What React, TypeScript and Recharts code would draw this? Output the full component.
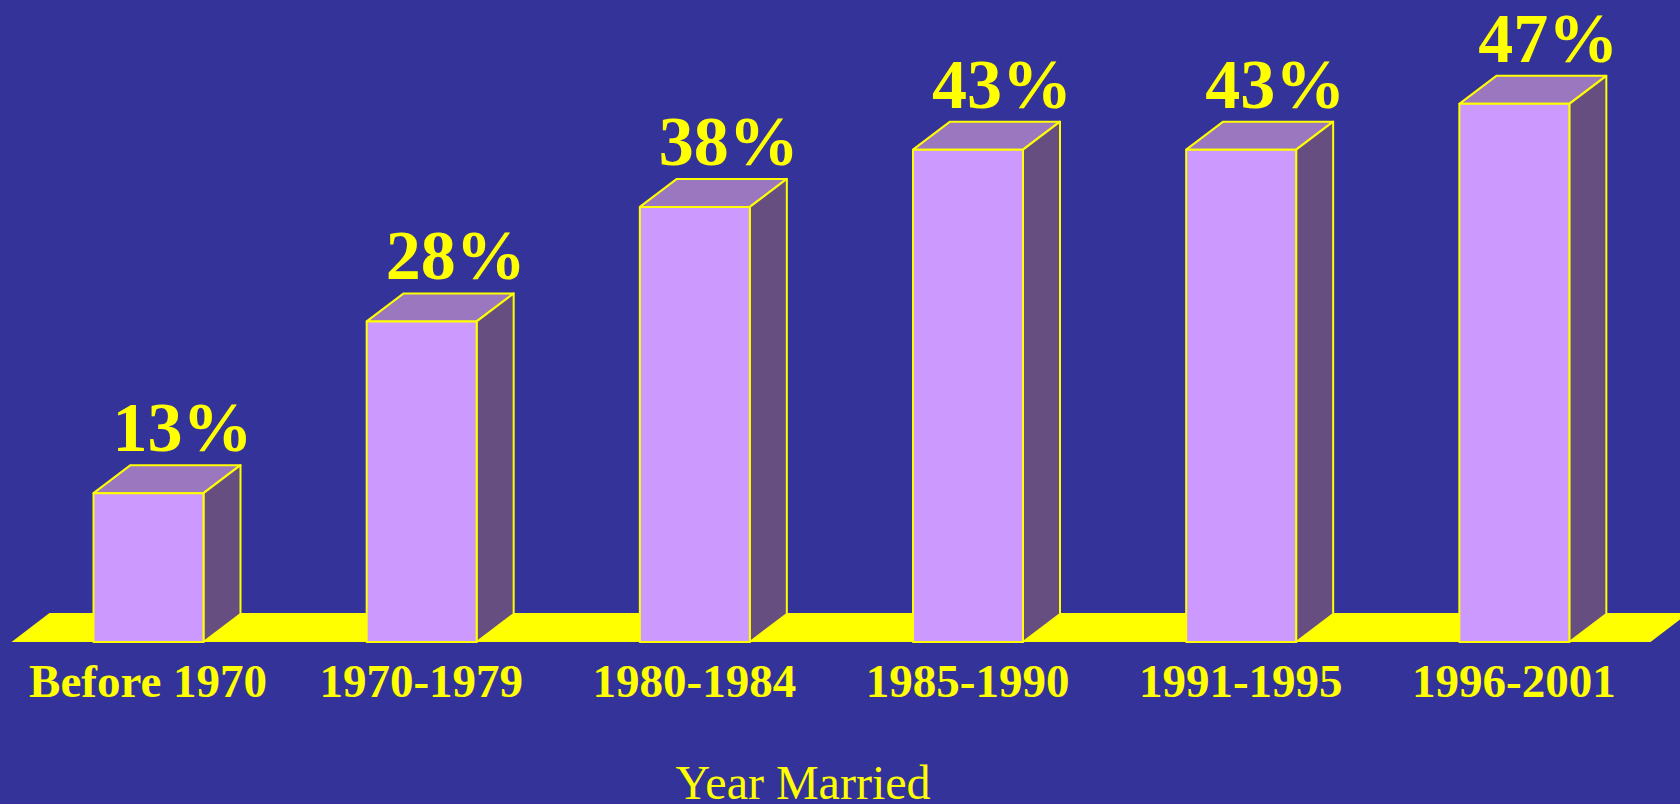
import { BarChart, Bar, XAxis, YAxis, LabelList, CartesianGrid } from "recharts";

const periods = ["Before 1970", "1970-1979", "1980-1984", "1985-1990", "1991-1995", "1996-2001"];
const shares = [13, 28, 38, 43, 43, 47];

const data = periods.map((p, i) => ({ period: p, share: shares[i] }));

const BG = "#333399";
const YELLOW = "#FFFF00";
const DX = 37;
const DY = 28;

const Box = (props: any) => {
  const { x, y, width, height } = props;
  const r = x + width;
  const b = y + height;
  return (
    <g stroke={YELLOW} strokeWidth={2} strokeLinejoin="round">
      <polygon points={`${x},${y} ${x + DX},${y - DY} ${r + DX},${y - DY} ${r},${y}`} fill="#9A77BF" />
      <polygon points={`${r},${y} ${r + DX},${y - DY} ${r + DX},${b - DY} ${r},${b}`} fill="#664F80" />
      <rect x={x} y={y} width={width} height={height} fill="#CC99FF" />
    </g>
  );
};

// yellow "floor" slab drawn from the grid line at the bottom of the plot, under the bars
const Floor = (props: any) => {
  const { x1, y1, x2, y2, y, height } = props;
  if (typeof y === "number" && typeof height === "number" && y1 < y + height - 1) return <g />;
  return (
    <polygon
      points={`${x1},${y1} ${x2},${y2} ${x2 + 38},${y2 - 29} ${x1 + 38},${y1 - 29}`}
      fill={YELLOW}
    />
  );
};

const ValueLabel = (props: any) => {
  const { x, y, width, value } = props;
  return (
    <text
      x={x + width / 2 + 34}
      y={y - 42}
      textAnchor="middle"
      fill={YELLOW}
      fontFamily="'Liberation Serif', serif"
      fontWeight="bold"
      fontSize={70}
    >
      {value}%
    </text>
  );
};

const PeriodTick = (props: any) => {
  const { x, y, payload } = props;
  return (
    <text
      x={x}
      y={y + 55}
      textAnchor="middle"
      fill={YELLOW}
      fontFamily="'Liberation Serif', serif"
      fontWeight="bold"
      fontSize={47}
    >
      {payload.value}
    </text>
  );
};

export default function App() {
  return (
    <div style={{ position: "absolute", left: 0, top: 0, width: 1680, height: 804, background: BG }}>
      <BarChart
        width={1680}
        height={804}
        data={data}
        margin={{ top: 69.5, right: 29.5, left: 11.5, bottom: 0 }}
      >
        <CartesianGrid vertical={false} horizontal={(p: any) => <Floor key={p.key} {...p} />} />
        <XAxis
          dataKey="period"
          height={162}
          axisLine={false}
          tickLine={false}
          tickSize={0}
          tickMargin={0}
          tick={<PeriodTick />}
          interval={0}
          label={{
            value: "Year Married",
            position: "insideBottom",
            offset: 5,
            dx: -28,
            fill: YELLOW,
            fontSize: 48,
            fontFamily: "'Liberation Serif', serif",
          }}
        />
        <YAxis hide domain={[0, 50]} ticks={[0]} />
        <Bar dataKey="share" barSize={110} shape={<Box />} isAnimationActive={false}>
          <LabelList dataKey="share" content={<ValueLabel />} />
        </Bar>
      </BarChart>
    </div>
  );
}
